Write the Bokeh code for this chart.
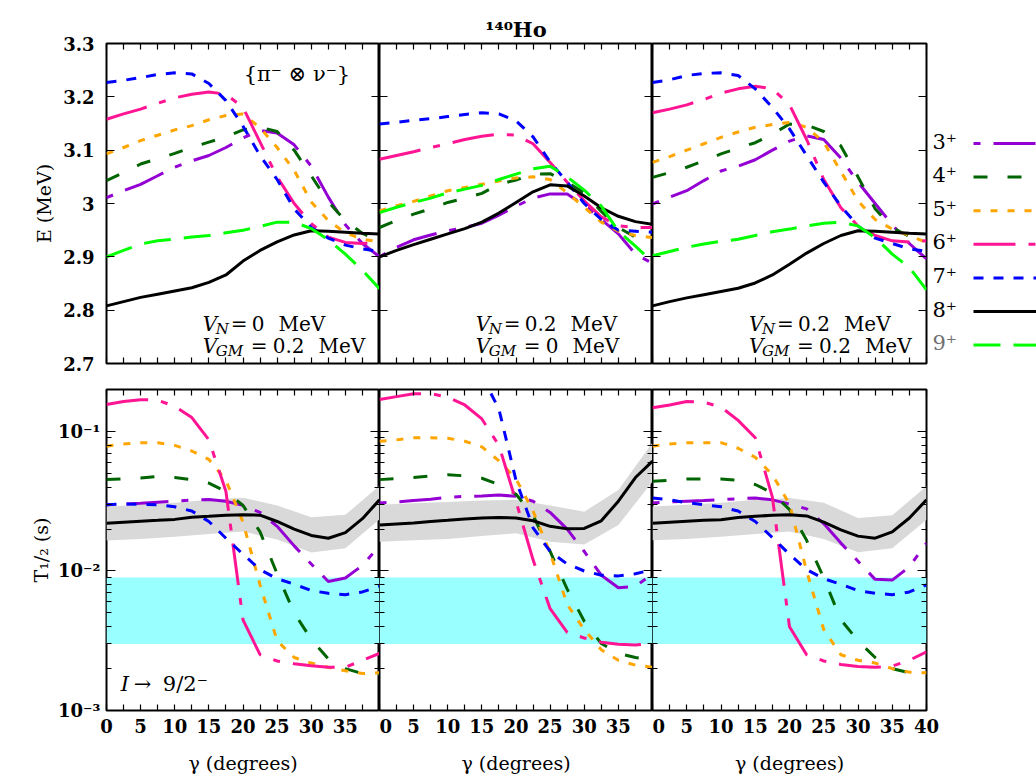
import numpy as np
from bokeh.plotting import figure
from bokeh.layouts import row, column
from bokeh.models import (Range1d, LinearAxis, LogAxis, FixedTicker,
                          CustomJSTickFormatter, BoxAnnotation, Title)
from bokeh.core.properties import value
from bokeh.embed import file_html
from bokeh.resources import INLINE

# ---------------- data ----------------
GAMMA = [0, 2.5, 5, 7.5, 10, 12.5, 15, 17.5, 20, 22.5, 25, 27.5, 30, 32.5, 35, 37.5, 40]
GAMMA_BAND = [0, 5, 10, 15, 20, 25, 30, 35, 40]
SPINS = ["3⁺", "4⁺", "5⁺", "6⁺", "7⁺", "8⁺", "9⁺"]

# Energies (MeV) -- panel 1: VN=0, VGM=0.2
E1_3 = [3.011, 3.024, 3.036, 3.052, 3.068, 3.08, 3.09, 3.105, 3.123, 3.137, 3.132, 3.11, 3.07, 3.012, 2.96, 2.925, 2.9]
E1_4 = [3.043, 3.058, 3.074, 3.084, 3.094, 3.105, 3.115, 3.125, 3.138, 3.143, 3.135, 3.1, 3.052, 3.003, 2.968, 2.944, 2.93]
E1_5 = [3.093, 3.105, 3.118, 3.128, 3.138, 3.146, 3.157, 3.165, 3.168, 3.142, 3.105, 3.062, 3.003, 2.968, 2.945, 2.933, 2.928]
E1_6 = [3.158, 3.168, 3.177, 3.188, 3.198, 3.205, 3.209, 3.205, 3.18, 3.115, 3.05, 3.0, 2.962, 2.937, 2.927, 2.925, 2.926]
E1_7 = [3.227, 3.231, 3.236, 3.242, 3.245, 3.243, 3.225, 3.193, 3.145, 3.09, 3.045, 2.99, 2.955, 2.935, 2.922, 2.915, 2.91]
E1_8 = [2.808, 2.816, 2.824, 2.83, 2.836, 2.842, 2.852, 2.866, 2.892, 2.912, 2.928, 2.941, 2.949, 2.948, 2.946, 2.944, 2.943]
E1_9 = [2.9, 2.912, 2.924, 2.93, 2.933, 2.937, 2.94, 2.945, 2.95, 2.957, 2.965, 2.965, 2.953, 2.932, 2.905, 2.875, 2.84]

# panel 2: VN=0.2, VGM=0
E2_3 = [2.9, 2.918, 2.932, 2.941, 2.949, 2.955, 2.963, 2.978, 2.995, 3.01, 3.018, 3.018, 2.997, 2.97, 2.943, 2.905, 2.888]
E2_4 = [2.955, 2.968, 2.98, 2.99, 3.002, 3.01, 3.019, 3.036, 3.044, 3.055, 3.056, 3.04, 3.02, 2.985, 2.955, 2.937, 2.935]
E2_5 = [2.986, 2.996, 3.004, 3.014, 3.024, 3.03, 3.036, 3.042, 3.048, 3.05, 3.045, 3.02, 2.993, 2.965, 2.948, 2.94, 2.936]
E2_6 = [3.083, 3.09, 3.097, 3.105, 3.112, 3.12, 3.126, 3.13, 3.128, 3.112, 3.077, 3.04, 3.005, 2.975, 2.958, 2.955, 2.955]
E2_7 = [3.149, 3.152, 3.156, 3.159, 3.163, 3.167, 3.17, 3.168, 3.155, 3.125, 3.078, 3.04, 3.0, 2.97, 2.95, 2.948, 2.946]
E2_8 = [2.9, 2.912, 2.923, 2.933, 2.943, 2.953, 2.965, 2.982, 3.002, 3.022, 3.035, 3.033, 3.014, 2.992, 2.976, 2.966, 2.961]
E2_9 = [2.983, 2.993, 3.002, 3.01, 3.02, 3.027, 3.034, 3.045, 3.055, 3.065, 3.07, 3.05, 3.025, 2.995, 2.948, 2.92, 2.89]

# panel 3: VN=0.2, VGM=0.2
E3_3 = [2.999, 3.012, 3.024, 3.043, 3.061, 3.07, 3.082, 3.1, 3.117, 3.127, 3.12, 3.085, 3.04, 3.0, 2.96, 2.925, 2.896]
E3_4 = [3.049, 3.058, 3.068, 3.08, 3.093, 3.104, 3.114, 3.13, 3.149, 3.147, 3.135, 3.108, 3.05, 2.99, 2.955, 2.938, 2.924]
E3_5 = [3.077, 3.088, 3.1, 3.112, 3.124, 3.134, 3.143, 3.148, 3.152, 3.143, 3.115, 3.06, 3.005, 2.97, 2.952, 2.94, 2.927]
E3_6 = [3.17, 3.177, 3.185, 3.195, 3.207, 3.215, 3.22, 3.215, 3.185, 3.12, 3.045, 2.992, 2.958, 2.94, 2.93, 2.928, 2.93]
E3_7 = [3.227, 3.232, 3.24, 3.244, 3.245, 3.24, 3.215, 3.18, 3.14, 3.09, 3.04, 2.995, 2.958, 2.935, 2.925, 2.915, 2.91]
E3_8 = [2.808, 2.816, 2.823, 2.829, 2.835, 2.841, 2.851, 2.866, 2.886, 2.907, 2.925, 2.94, 2.949, 2.948, 2.946, 2.944, 2.943]
E3_9 = [2.902, 2.91, 2.918, 2.924, 2.929, 2.933, 2.94, 2.947, 2.952, 2.958, 2.963, 2.965, 2.958, 2.936, 2.905, 2.88, 2.838]

# Half-lives, log10(T1/2 / s)
NAN = float("nan")
L1_3 = [-1.525, -1.52, -1.515, -1.507, -1.5, -1.492, -1.488, -1.5, -1.53, -1.58, -1.68, -1.82, -1.95, -2.075, -2.05, -1.96, -1.82]
L1_4 = [-1.345, -1.34, -1.333, -1.322, -1.33, -1.345, -1.37, -1.43, -1.53, -1.72, -2.02, -2.3, -2.49, -2.63, -2.7, -2.735, -2.74]
L1_5 = [-1.105, -1.09, -1.08, -1.08, -1.1, -1.14, -1.2, -1.35, -1.65, -2.1, -2.5, -2.62, -2.66, -2.69, -2.715, -2.735, -2.73]
L1_6 = [-0.806, -0.785, -0.772, -0.775, -0.82, -0.9, -1.06, -1.43, -2.35, -2.6, -2.645, -2.665, -2.68, -2.69, -2.69, -2.64, -2.59]
L1_7 = [-1.525, -1.52, -1.522, -1.525, -1.54, -1.57, -1.645, -1.765, -1.88, -1.99, -2.055, -2.095, -2.14, -2.16, -2.17, -2.15, -2.11]
L1_8 = [-1.657, -1.65, -1.643, -1.637, -1.63, -1.615, -1.608, -1.6, -1.597, -1.6, -1.645, -1.7, -1.745, -1.765, -1.725, -1.625, -1.49]

L2_3 = [-1.513, -1.505, -1.495, -1.485, -1.472, -1.465, -1.462, -1.455, -1.465, -1.5, -1.58, -1.7, -1.86, -2.03, -2.12, -2.11, -2.02]
L2_4 = [-1.345, -1.338, -1.33, -1.318, -1.31, -1.318, -1.335, -1.38, -1.45, -1.6, -1.86, -2.13, -2.36, -2.52, -2.59, -2.62, -2.635]
L2_5 = [-1.07, -1.06, -1.045, -1.045, -1.048, -1.07, -1.11, -1.21, -1.34, -1.57, -1.87, -2.24, -2.42, -2.565, -2.64, -2.675, -2.69]
L2_6 = [-0.77, -0.75, -0.73, -0.728, -0.755, -0.81, -0.91, -1.1, -1.5, -1.92, -2.27, -2.44, -2.48, -2.51, -2.525, -2.53, -2.52]
L2_7 = [NAN, NAN, NAN, NAN, NAN, NAN, -0.6, -0.84, -1.35, -1.69, -1.86, -1.95, -2.0, -2.03, -2.035, -2.02, -1.99]
L2_8 = [-1.67, -1.663, -1.656, -1.645, -1.637, -1.627, -1.62, -1.616, -1.62, -1.64, -1.68, -1.698, -1.695, -1.64, -1.5, -1.33, -1.213]

L3_3 = [-1.513, -1.505, -1.5, -1.495, -1.488, -1.482, -1.477, -1.49, -1.52, -1.555, -1.66, -1.8, -1.93, -2.06, -2.065, -1.97, -1.8]
L3_4 = [-1.357, -1.35, -1.34, -1.34, -1.34, -1.35, -1.38, -1.44, -1.56, -1.78, -2.05, -2.35, -2.5, -2.62, -2.7, -2.73, -2.74]
L3_5 = [-1.105, -1.09, -1.08, -1.08, -1.08, -1.12, -1.185, -1.31, -1.52, -2.0, -2.42, -2.6, -2.64, -2.66, -2.7, -2.725, -2.73]
L3_6 = [-0.83, -0.81, -0.785, -0.79, -0.825, -0.92, -1.045, -1.47, -2.4, -2.6, -2.645, -2.67, -2.685, -2.69, -2.682, -2.64, -2.58]
L3_7 = [-1.477, -1.49, -1.51, -1.525, -1.54, -1.57, -1.645, -1.76, -1.88, -1.99, -2.055, -2.095, -2.14, -2.16, -2.17, -2.15, -2.1]
L3_8 = [-1.657, -1.65, -1.643, -1.637, -1.632, -1.617, -1.608, -1.6, -1.597, -1.605, -1.65, -1.705, -1.75, -1.765, -1.72, -1.62, -1.49]

# uncertainty band around the 8+ half-life (log10 s)
B1_HI = [-1.537, -1.525, -1.51, -1.49, -1.475, -1.53, -1.615, -1.597, -1.39]
B1_LO = [-1.782, -1.77, -1.755, -1.735, -1.717, -1.775, -1.868, -1.837, -1.63]
B2_HI = [-1.525, -1.515, -1.505, -1.495, -1.49, -1.53, -1.575, -1.42, -1.08]
B2_LO = [-1.79, -1.78, -1.77, -1.75, -1.73, -1.79, -1.81, -1.67, -1.36]
B3_HI = [-1.537, -1.525, -1.51, -1.49, -1.477, -1.51, -1.62, -1.6, -1.393]
B3_LO = [-1.78, -1.77, -1.755, -1.735, -1.717, -1.77, -1.866, -1.837, -1.633]

# experimental half-life window (s)
EXP_T_LO = 0.003
EXP_T_HI = 0.009

VN_VALUES = ["0", "0.2", "0.2"]
VGM_VALUES = ["0.2", "0", "0.2"]

X_TICKS = [0, 5, 10, 15, 20, 25, 30, 35]
X_TICKS_LAST = [0, 5, 10, 15, 20, 25, 30, 35, 40]
X_MINOR = [2.5, 7.5, 12.5, 17.5, 22.5, 27.5, 32.5, 37.5]
X_ALL = [0, 2.5, 5, 7.5, 10, 12.5, 15, 17.5, 20, 22.5, 25, 27.5, 30, 32.5, 35, 37.5, 40]
ZERO_LABEL_AT = 0.8   # the "0" of the inner panels sits just right of the shared border
E_TICKS = [2.7, 2.8, 2.9, 3.0, 3.1, 3.2, 3.3]
T_TICKS = [1e-3, 1e-2, 1e-1]
T_MINOR = [m * 10.0 ** e for e in (-3, -2, -1) for m in range(2, 10)]

E_PANELS = [[E1_3, E1_4, E1_5, E1_6, E1_7, E1_8, E1_9],
            [E2_3, E2_4, E2_5, E2_6, E2_7, E2_8, E2_9],
            [E3_3, E3_4, E3_5, E3_6, E3_7, E3_8, E3_9]]
L_PANELS = [[L1_3, L1_4, L1_5, L1_6, L1_7, L1_8],
            [L2_3, L2_4, L2_5, L2_6, L2_7, L2_8],
            [L3_3, L3_4, L3_5, L3_6, L3_7, L3_8]]
BANDS = [(B1_LO, B1_HI), (B2_LO, B2_HI), (B3_LO, B3_HI)]

# ---------------- styles ----------------
SERIF = "DejaVu Serif"
COLORS = ["#9400D3", "#006400", "#FFA500", "#FF1493", "#0000FF", "#000000", "#00FF00"]
DASHES = ["7 13 42 13", "14 20", "7 10", "42 13 7 13", "10 10", "solid", "27 13"]
LW = 3

PANEL_W = [273, 273, 274]
BORDER_L = [106, 0, 0]
BORDER_R_TOP = [0, 0, 2]
BORDER_R_BOT = [0, 0, 110]
TOP_H = 376   # height of the upper row of figures
ANN = "20px"


def tick_style(ax, major_in, minor_in):
    ax.axis_line_color = None
    ax.major_tick_in = major_in
    ax.major_tick_out = 0
    ax.minor_tick_in = minor_in
    ax.minor_tick_out = 0
    ax.major_tick_line_color = "black"
    ax.minor_tick_line_color = "black" if minor_in > 0 else None
    ax.major_tick_line_width = 1.2
    ax.minor_tick_line_width = 1.2


def hide_labels(ax):
    ax.major_label_text_font_size = "0px"
    ax.major_label_standoff = 0
    ax.formatter = CustomJSTickFormatter(code="return '';")


def label_style(ax):
    ax.major_label_text_font = SERIF
    ax.major_label_text_font_style = "bold"
    ax.major_label_text_font_size = "18px"
    ax.major_label_text_color = "black"
    ax.axis_label_text_font = SERIF
    ax.axis_label_text_font_style = "normal"
    ax.axis_label_text_font_size = "19px"
    ax.axis_label_text_color = "black"


def txt(p, x, y, s, dx=0, size=ANN, style="normal", align="left",
        baseline="alphabetic", color="black"):
    p.text(x=[x], y=[y], text=[s], x_offset=dx, text_font=value(SERIF),
           text_font_size=size, text_font_style=style, text_align=align,
           text_baseline=baseline, text_color=color)


def text_w(s):
    # rough advance of a DejaVu Serif string at 20px
    return sum(6.4 if c == "." else 12.7 for c in s)


def make_panel(k, top):
    p = figure(frame_width=PANEL_W[k], frame_height=320 if top else 321,
               x_range=Range1d(0, 40),
               y_range=Range1d(2.7, 3.3) if top else Range1d(1e-3, 0.2),
               y_axis_type="linear" if top else "log",
               output_backend="svg", toolbar_location=None, title_location=None,
               min_border_left=BORDER_L[k],
               min_border_right=(BORDER_R_TOP if top else BORDER_R_BOT)[k],
               min_border_top=43 if top else 13,
               min_border_bottom=13 if top else 70)
    p.grid.visible = False
    p.outline_line_color = "black"
    p.outline_line_width = 2
    p.outline_line_alpha = 1
    p.background_fill_color = "white"
    p.border_fill_color = "white"

    bx = p.below[0]
    ly = p.left[0]
    xt = FixedTicker(ticks=X_TICKS_LAST if k == 2 else X_TICKS, minor_ticks=X_MINOR)
    if top:
        yt = FixedTicker(ticks=E_TICKS)
    else:
        yt = FixedTicker(ticks=T_TICKS, minor_ticks=T_MINOR)
    bx.ticker = xt
    ly.ticker = yt
    above = LinearAxis(ticker=xt)
    right = LinearAxis(ticker=yt) if top else LogAxis(ticker=yt)
    p.add_layout(above, "above")
    p.add_layout(right, "right")

    for ax in (bx, above):
        tick_style(ax, 6, 6)
    for ax in (ly, right):
        if top:
            tick_style(ax, 8, 0)
        else:
            tick_style(ax, 9, 5)
    hide_labels(above)
    hide_labels(right)

    if top:
        hide_labels(bx)
    else:
        label_style(bx)
        bx.major_label_standoff = 8
        if k > 0:
            # tick marks come from the minor list; labelled positions carry only text
            lab = X_TICKS_LAST if k == 2 else X_TICKS
            bx.ticker = FixedTicker(ticks=[ZERO_LABEL_AT] + lab[1:], minor_ticks=X_ALL)
            bx.major_tick_line_color = None
        bx.formatter = CustomJSTickFormatter(code="return String(Math.round(tick / 5) * 5);")
        bx.axis_label = "γ (degrees)"
        bx.axis_label_standoff = 16

    if k == 0:
        label_style(ly)
        if top:
            ly.formatter = CustomJSTickFormatter(
                code="return String(Math.round(tick * 10) / 10);")
            ly.major_label_standoff = 12
            ly.axis_label = "E (MeV)"
            ly.axis_label_standoff = 5
        else:
            ly.formatter = CustomJSTickFormatter(code="""
                const e = Math.round(Math.log10(tick));
                const m = {'-': '⁻', '0': '⁰', '1': '¹', '2': '²', '3': '³'};
                return '10' + String(e).split('').map(c => m[c]).join('');
            """)
            ly.major_label_standoff = 6
            ly.axis_label = "T₁/₂ (s)"
            ly.axis_label_standoff = 3
    else:
        hide_labels(ly)
    return p


top_figs = []
bot_figs = []
for k in range(3):
    # ----- energies -----
    p = make_panel(k, True)
    for i in range(7):
        p.line(GAMMA, E_PANELS[k][i], line_color=COLORS[i], line_width=LW,
               line_dash=DASHES[i])
    # V_N line
    txt(p, 14.1, 2.775, "V", style="italic")
    txt(p, 14.1, 2.7655, "N", dx=13, size="15px", style="italic")
    txt(p, 14.1, 2.775, "=", dx=28)
    txt(p, 14.1, 2.775, VN_VALUES[k], dx=49)
    txt(p, 14.1, 2.775, "MeV", dx=49 + text_w(VN_VALUES[k]) + 14)
    # V_GM line
    txt(p, 14.1, 2.733, "V", style="italic")
    txt(p, 14.1, 2.7235, "GM", dx=13, size="15px", style="italic")
    txt(p, 14.1, 2.733, "=", dx=48)
    txt(p, 14.1, 2.733, VGM_VALUES[k], dx=70)
    txt(p, 14.1, 2.733, "MeV", dx=70 + text_w(VGM_VALUES[k]) + 14)
    if k == 0:
        txt(p, 20.1, 3.243, "{π⁻ ⊗ ν⁻}", size="21px", baseline="middle")
    if k == 1:
        p.add_layout(Title(text="¹⁴⁰Ho", align="center", offset=-10, standoff=4,
                           text_font=SERIF, text_font_size="21px",
                           text_font_style="bold", text_color="black"), "above")
    top_figs.append(p)

    # ----- half-lives -----
    q = make_panel(k, False)
    q.add_layout(BoxAnnotation(bottom=EXP_T_LO, top=EXP_T_HI, fill_color="#99FFFF",
                               fill_alpha=1, line_color=None, level="underlay"))
    lo, hi = BANDS[k]
    q.varea(x=GAMMA_BAND, y1=10 ** np.array(lo), y2=10 ** np.array(hi),
            fill_color="#D9D9D9", fill_alpha=1)
    for i in range(6):
        q.line(GAMMA, 10 ** np.array(L_PANELS[k][i], dtype=float),
               line_color=COLORS[i], line_width=LW, line_dash=DASHES[i])
    if k == 0:
        txt(q, 2.1, 0.00156, "I", size="21px", style="italic")
        txt(q, 2.1, 0.00156, "→", size="21px", dx=13)
        txt(q, 2.1, 0.00156, "9/2⁻", size="21px", dx=42)
    bot_figs.append(q)

# ----- legend column (coordinates = pixels of the upper row) -----
leg = figure(frame_width=108, frame_height=TOP_H, x_range=Range1d(0, 108),
             y_range=Range1d(TOP_H, 0), x_axis_location=None, y_axis_location=None,
             output_backend="svg", toolbar_location=None, title_location=None,
             min_border=0, outline_line_color=None)
leg.grid.visible = False
LEG_Y0 = 100
LEG_DY = 33.6
for i, s in enumerate(SPINS):
    yy = LEG_Y0 + LEG_DY * i
    leg.text(x=[4], y=[yy - 2], text=[s], text_font=value(SERIF), text_font_size="21px",
             text_baseline="middle", text_align="left",
             text_color="#707070" if i == 6 else "black")
    leg.segment(x0=[45], x1=[108], y0=[yy], y1=[yy], line_color=COLORS[i],
                line_width=LW, line_dash=DASHES[i])

layout = column(row(top_figs[0], top_figs[1], top_figs[2], leg),
                row(bot_figs[0], bot_figs[1], bot_figs[2]))

open("out.html", "w").write(file_html(layout, INLINE))
